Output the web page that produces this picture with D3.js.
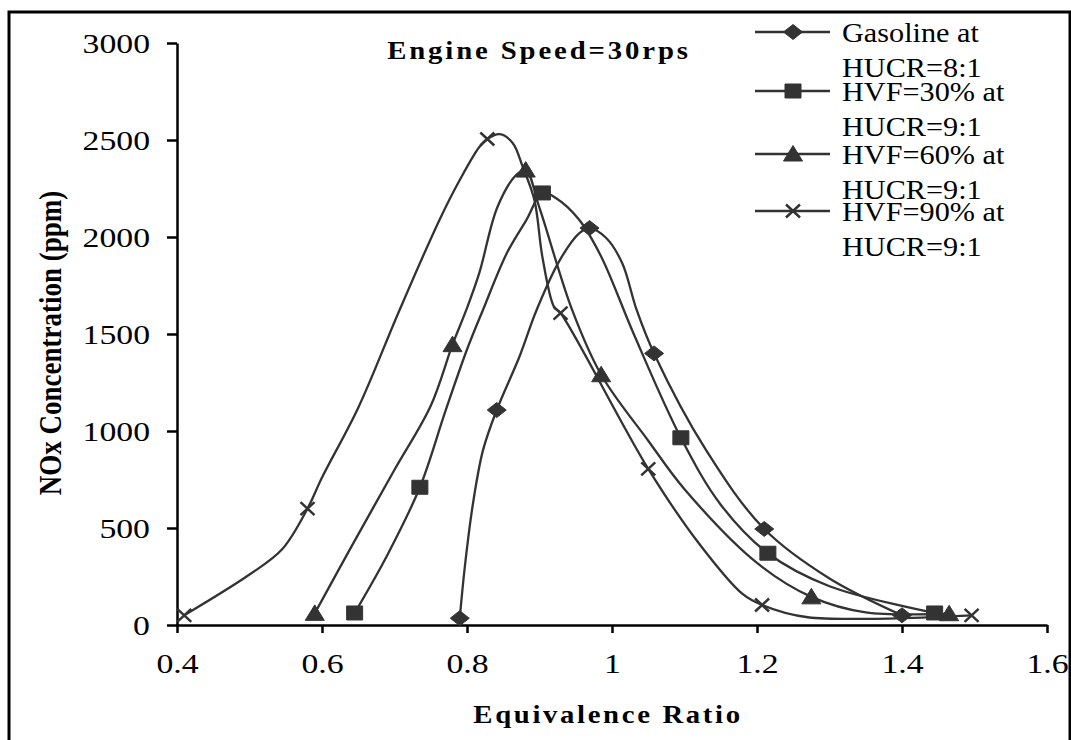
<!DOCTYPE html>
<html>
<head>
<meta charset="utf-8">
<script src="https://cdn.jsdelivr.net/npm/d3@7"></script>
<style>
  body { margin: 0; background: #fff; }
  svg { display: block; }
  text { font-family: "Liberation Serif", "Times New Roman", serif; fill: #000; }
</style>
</head>
<body>
<svg id="chart" width="1071" height="740"></svg>
<script>
"use strict";

// x ticks and y ticks
let xTicks = [0.4, 0.6, 0.8, 1.0, 1.2, 1.4, 1.6];
let xTickLabels = ["0.4", "0.6", "0.8", "1", "1.2", "1.4", "1.6"];
let yTicks = [0, 500, 1000, 1500, 2000, 2500, 3000];

// Gasoline at HUCR=8:1 (diamond)
let gasolineCurve = [[0.79, 35], [0.797, 300], [0.808, 620], [0.822, 900], [0.841, 1108], [0.872, 1380],
  [0.896, 1624], [0.928, 1881], [0.955, 2020], [0.969, 2046], [0.992, 1995], [1.014, 1866], [1.034, 1624],
  [1.058, 1400], [1.13, 900], [1.21, 495], [1.30, 240], [1.40, 50]];
let gasolineMarks = [[0.79, 35], [0.841, 1108], [0.969, 2046], [1.058, 1400], [1.21, 495], [1.40, 50]];

// HVF=30% at HUCR=9:1 (square)
let hvf30Curve = [[0.645, 62], [0.69, 360], [0.735, 710], [0.77, 1100], [0.80, 1420], [0.822, 1624],
  [0.855, 1917], [0.882, 2088], [0.904, 2227], [0.923, 2200], [0.955, 2088], [0.985, 1900], [1.03, 1500],
  [1.095, 965], [1.15, 620], [1.215, 370], [1.30, 200], [1.445, 62]];
let hvf30Marks = [[0.645, 62], [0.735, 710], [0.904, 2227], [1.095, 965], [1.215, 370], [1.445, 62]];

// HVF=60% at HUCR=9:1 (triangle)
let hvf60Curve = [[0.59, 60], [0.64, 400], [0.70, 800], [0.75, 1130], [0.78, 1445], [0.799, 1624],
  [0.817, 1815], [0.842, 2155], [0.868, 2320], [0.881, 2345], [0.90, 2150], [0.945, 1624], [0.985, 1290],
  [1.05, 950], [1.10, 700], [1.20, 320], [1.275, 145], [1.35, 65], [1.465, 58]];
let hvf60Marks = [[0.59, 60], [0.78, 1445], [0.881, 2345], [0.985, 1290], [1.275, 145], [1.465, 58]];

// HVF=90% at HUCR=9:1 (cross)
let hvf90Curve = [[0.41, 50], [0.50, 260], [0.545, 390], [0.58, 600], [0.60, 760], [0.65, 1120],
  [0.707, 1624], [0.762, 2088], [0.79, 2294], [0.817, 2464], [0.828, 2505], [0.845, 2530], [0.863, 2485],
  [0.877, 2360], [0.893, 2190], [0.904, 1897], [0.92, 1640], [0.929, 1608], [1.05, 805], [1.12, 420],
  [1.18, 160], [1.207, 103], [1.27, 40], [1.496, 50]];
let hvf90Marks = [[0.41, 50], [0.58, 600], [0.828, 2505], [0.929, 1608], [1.05, 805], [1.207, 103], [1.496, 50]];

let legendLabels = [["Gasoline at", "HUCR=8:1"], ["HVF=30% at", "HUCR=9:1"],
  ["HVF=60% at", "HUCR=9:1"], ["HVF=90% at", "HUCR=9:1"]];

let series = [
  { curve: gasolineCurve, marks: gasolineMarks, shape: "diamond" },
  { curve: hvf30Curve, marks: hvf30Marks, shape: "square" },
  { curve: hvf60Curve, marks: hvf60Marks, shape: "triangle" },
  { curve: hvf90Curve, marks: hvf90Marks, shape: "cross" }
];

let ink = "#333";
let svg = d3.select("#chart");

// outer frame
svg.append("rect")
  .attr("x", 9).attr("y", 12)
  .attr("width", 1061).attr("height", 760)
  .attr("fill", "none").attr("stroke", "#000").attr("stroke-width", 3);

let x = d3.scaleLinear().domain([0.4, 1.6]).range([177, 1047]);
let y = d3.scaleLinear().domain([0, 3000]).range([625, 43]);

// axes
let xAxis = svg.append("g")
  .attr("transform", `translate(0,${y(0)})`)
  .call(d3.axisBottom(x).tickValues(xTicks).tickSize(8).tickSizeOuter(0)
    .tickFormat((d, i) => xTickLabels[i]));
let yAxis = svg.append("g")
  .attr("transform", `translate(${x(0.4)},0)`)
  .call(d3.axisLeft(y).tickValues(yTicks).tickSize(10).tickSizeOuter(0).tickFormat(d3.format("d")));

[xAxis, yAxis].forEach(a => {
  a.select(".domain").attr("stroke", "#000").attr("stroke-width", 2.5);
  a.selectAll(".tick line").attr("stroke", "#000").attr("stroke-width", 2.5);
  a.selectAll(".tick text").attr("font-family", null).attr("font-size", 27).attr("fill", "#000");
});
xAxis.selectAll(".tick text")
  .attr("y", null).attr("dy", null)
  .attr("transform", "translate(0,48) scale(1.25,1)");
yAxis.selectAll(".tick text")
  .attr("x", null).attr("dy", "0.34em")
  .attr("transform", "translate(-27,0) scale(1.25,1)");

// curves
let line = d3.line()
  .x(d => x(d[0])).y(d => y(d[1]))
  .curve(d3.curveCatmullRom.alpha(0.5));

function markerPath(shape) {
  if (shape === "diamond") return "M0,-7.5L9.5,0L0,7.5L-9.5,0Z";
  if (shape === "square") return "M-8,-7L8,-7L8,7L-8,7Z";
  if (shape === "triangle") return "M0,-8.5L9.5,7L-9.5,7Z";
  return "M-7,-6.5L7,6.5M-7,6.5L7,-6.5";
}

function drawMarker(g, shape) {
  let p = g.append("path").attr("d", markerPath(shape));
  if (shape === "cross") p.attr("fill", "none").attr("stroke", ink).attr("stroke-width", 2.5);
  else p.attr("fill", ink).attr("stroke", ink).attr("stroke-width", 1).attr("stroke-linejoin", "round");
}

series.forEach(s => {
  svg.append("path")
    .datum(s.curve)
    .attr("d", line)
    .attr("fill", "none").attr("stroke", ink).attr("stroke-width", 2.3);
});
series.forEach(s => {
  svg.append("g").selectAll("g")
    .data(s.marks)
    .enter().append("g")
    .attr("transform", d => `translate(${x(d[0])},${y(d[1])})`)
    .each(function () { drawMarker(d3.select(this), s.shape); });
});

// chart title
svg.append("text")
  .attr("transform", "translate(539,59) scale(1.15,1)")
  .attr("text-anchor", "middle")
  .attr("font-size", 25).attr("font-weight", "bold")
  .attr("letter-spacing", 2.5)
  .text("Engine Speed=30rps");

// axis titles
svg.append("text")
  .attr("transform", "translate(608,723) scale(1.15,1)")
  .attr("text-anchor", "middle")
  .attr("font-size", 25).attr("font-weight", "bold")
  .attr("letter-spacing", 2.3)
  .text("Equivalence Ratio");

svg.append("text")
  .attr("transform", "translate(61,343) scale(1.2,1) rotate(-90)")
  .attr("text-anchor", "middle")
  .attr("font-size", 27).attr("font-weight", "bold")
  .text("NOx Concentration (ppm)");

// legend
let legendRows = [32, 91, 154, 211];
legendLabels.forEach((lab, i) => {
  let g = svg.append("g").attr("transform", `translate(0,${legendRows[i]})`);
  g.append("line")
    .attr("x1", 755).attr("x2", 830).attr("y1", 0).attr("y2", 0)
    .attr("stroke", ink).attr("stroke-width", 2.3);
  drawMarker(g.append("g").attr("transform", "translate(793,0)"), series[i].shape);
  lab.forEach((t, j) => {
    g.append("text")
      .attr("transform", `translate(842,${j === 0 ? 10 : 45}) scale(1.12,1)`)
      .attr("font-size", 27)
      .text(t);
  });
});
</script>
</body>
</html>
